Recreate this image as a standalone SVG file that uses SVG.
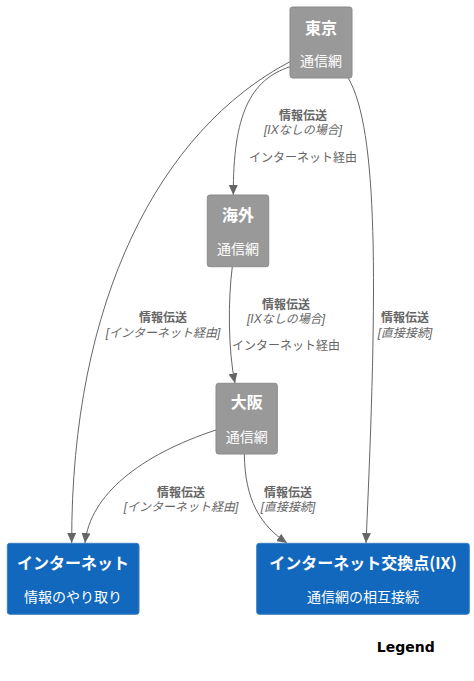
<svg xmlns="http://www.w3.org/2000/svg" width="474" height="681" viewBox="0 0 474 681">
<style>
text{font-family:"Noto Sans CJK JP","Noto Sans",sans-serif;text-anchor:middle}
.ext{fill:#999999;stroke:#8A8A8A;stroke-width:1}
.sys{fill:#1168BD;stroke:#3C7FC0;stroke-width:1}
.t{font-size:16px;font-weight:bold;fill:#FFFFFF}
.s{font-size:14px;fill:#FFFFFF}
.e{fill:none;stroke:#666666;stroke-width:1;marker-end:url(#arr)}
.l,.k,.d{font-family:"Liberation Sans","Noto Sans CJK JP",sans-serif;font-size:12px;fill:#666666}
.l{font-weight:bold}
.k{font-style:italic}
</style>
<defs>
<marker id="arr" markerUnits="userSpaceOnUse" markerWidth="10" markerHeight="9" refX="10" refY="4.5" orient="auto" viewBox="0 0 10 9">
<path d="M0,0 L10,4.5 L0,9 z" fill="#666666"/>
</marker>
</defs>
<rect width="474" height="681" fill="#FFFFFF"/>
<g id="connectors">
<path class="e" d="M290,61.7 C160,130 71,300 71.7,543"/>
<path class="e" d="M290,66.7 C250,80 233,115 233.3,195"/>
<path class="e" d="M348.3,78 C378,130 378,280 366,543"/>
<path class="e" d="M232.3,266.7 C228,300 228,350 235,383.3"/>
<path class="e" d="M216,430 C140,455 90,495 85,543"/>
<path class="e" d="M244.3,454 C245,500 260,525 287,543"/>
<text class="l" x="303" y="119.5">情報伝送</text>
<text class="k" x="303" y="134">[IXなしの場合]</text>
<text class="d" x="303" y="161.5">インターネット経由</text>
<text class="l" x="163" y="321.5">情報伝送</text>
<text class="k" x="163" y="336.5">[インターネット経由]</text>
<text class="l" x="405" y="321.5">情報伝送</text>
<text class="k" x="405" y="336.5">[直接接続]</text>
<text class="l" x="286" y="308.5">情報伝送</text>
<text class="k" x="286" y="323">[IXなしの場合]</text>
<text class="d" x="286" y="350">インターネット経由</text>
<text class="l" x="181" y="496.5">情報伝送</text>
<text class="k" x="181" y="511">[インターネット経由]</text>
<text class="l" x="288" y="496.5">情報伝送</text>
<text class="k" x="288" y="511">[直接接続]</text>
</g>
<g id="tokyo">
<rect class="ext" x="290" y="7" width="62" height="71" rx="2.5"/>
<text class="t" x="321" y="34">東京</text>
<text class="s" x="321" y="66">通信網</text>
</g>
<g id="kaigai">
<rect class="ext" x="207.3" y="195" width="61.4" height="71.7" rx="2.5"/>
<text class="t" x="238" y="221">海外</text>
<text class="s" x="238" y="254">通信網</text>
</g>
<g id="osaka">
<rect class="ext" x="216" y="383.3" width="61.3" height="70.7" rx="2.5"/>
<text class="t" x="246.7" y="408">大阪</text>
<text class="s" x="246.7" y="442">通信網</text>
</g>
<g id="internet">
<rect class="sys" x="7.3" y="543.3" width="131.7" height="71" rx="2.5"/>
<text class="t" x="73" y="569">インターネット</text>
<text class="s" x="73" y="602">情報のやり取り</text>
</g>
<g id="ix">
<rect class="sys" x="256.7" y="543.3" width="212.6" height="71" rx="2.5"/>
<text class="t" x="363" y="569">インターネット交換点(IX)</text>
<text class="s" x="363" y="602">通信網の相互接続</text>
</g>
<g id="legend">
<text x="405.7" y="651.5" style="font-family:'DejaVu Sans',sans-serif;font-size:14px;font-weight:bold;fill:#000000">Legend</text>
</g>
</svg>
